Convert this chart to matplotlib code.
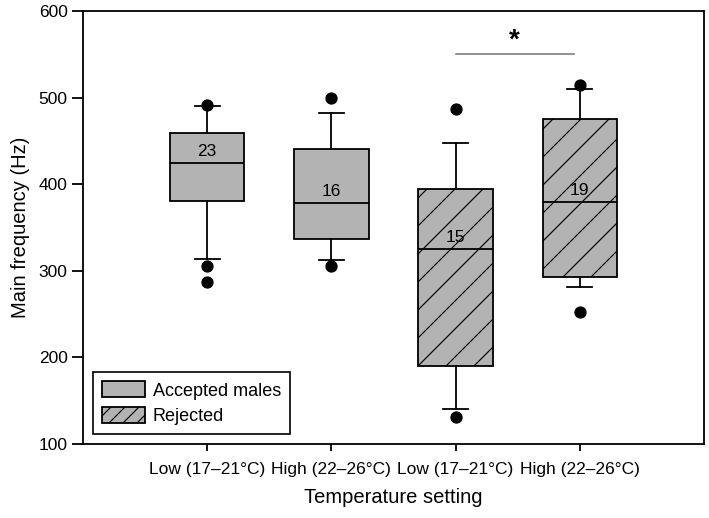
import numpy as np
import matplotlib
matplotlib.use('Agg')
import matplotlib.pyplot as plt
from matplotlib.patches import Patch

# dpi 84 so the '/' hatch spacing comes out close to the original
DPI = 84
S = 100 / DPI   # sizes below are given as if at 100 dpi

plt.rcParams['font.family'] = ['Liberation Sans', 'DejaVu Sans']
plt.rcParams['hatch.linewidth'] = 1.0

# Datos
categorias = ['Low (17–21°C)', 'High (22–26°C)', 'Low (17–21°C)', 'High (22–26°C)']
grupos = ['accepted', 'accepted', 'rejected', 'rejected']
whis_lo = [314, 313, 140, 281]
q1 = [381, 337, 190, 293]
mediana = [424, 378, 325, 379]
q3 = [459, 441, 394, 475]
whis_hi = [490, 482, 448, 510]
outliers = [[492, 306, 287], [500, 306], [487, 131], [514, 252]]
n_obs = [23, 16, 15, 19]

pos = np.arange(1, len(categorias) + 1)
gris = '#b3b3b3'

stats = []
for i in range(len(categorias)):
    stats.append(dict(med=mediana[i], q1=q1[i], q3=q3[i],
                      whislo=whis_lo[i], whishi=whis_hi[i],
                      fliers=outliers[i]))

fig = plt.figure(figsize=(709 / DPI, 518 / DPI), dpi=DPI)
ax = fig.add_axes([83 / 709, 1 - 444 / 518, 621 / 709, 433 / 518])

lw = 1.3 * S
bp = ax.bxp(stats, positions=pos, widths=0.6, patch_artist=True,
            showfliers=True,
            boxprops=dict(facecolor=gris, edgecolor='black', linewidth=lw),
            medianprops=dict(color='black', linewidth=lw),
            whiskerprops=dict(color='black', linewidth=lw),
            capprops=dict(color='black', linewidth=lw),
            capwidths=0.2,
            flierprops=dict(marker='o', markerfacecolor='black',
                            markeredgecolor='black', markersize=8 * S))

for caja, g in zip(bp['boxes'], grupos):
    if g == 'rejected':
        caja.set_hatch('/')

# numero de observaciones
for x, m, n in zip(pos, mediana, n_obs):
    ax.text(x, m + 14, str(n), ha='center', va='center', fontsize=12.5 * S)

# significancia
ax.plot([3, 3.95], [550, 550], color='#808080', linewidth=1.2 * S)
ax.text(3.47, 566, '*', ha='center', va='center', fontsize=20 * S,
        fontweight='bold')

ax.set_xlim(0, 5)
ax.set_ylim(100, 600)
ax.set_xticks(pos)
ax.set_xticklabels(categorias)
ax.set_yticks([100, 200, 300, 400, 500, 600])
ax.tick_params(axis='y', direction='out', length=8 * S, width=lw,
               labelsize=12.5 * S, pad=3 * S)
ax.tick_params(axis='x', direction='out', length=5 * S, width=lw,
               labelsize=12.5 * S, pad=8 * S)
for sp in ax.spines.values():
    sp.set_linewidth(lw)

ax.set_xlabel('Temperature setting', fontsize=14.5 * S, labelpad=8 * S)
ax.set_ylabel('Main frequency (Hz)', fontsize=14.5 * S, labelpad=6 * S)

handles = [Patch(facecolor=gris, edgecolor='black', linewidth=lw),
           Patch(facecolor=gris, edgecolor='black', linewidth=lw, hatch='//')]
leg = ax.legend(handles, ['Accepted males', 'Rejected'], loc='lower left',
                bbox_to_anchor=(0.016, 0.023), borderaxespad=0,
                fontsize=13 * S, fancybox=False, edgecolor='black',
                framealpha=1, handlelength=2.4, handleheight=1.0,
                handletextpad=0.4, borderpad=0.5, labelspacing=0.4)
leg.get_frame().set_linewidth(1.2 * S)

fig.savefig('out.png', dpi=DPI)
